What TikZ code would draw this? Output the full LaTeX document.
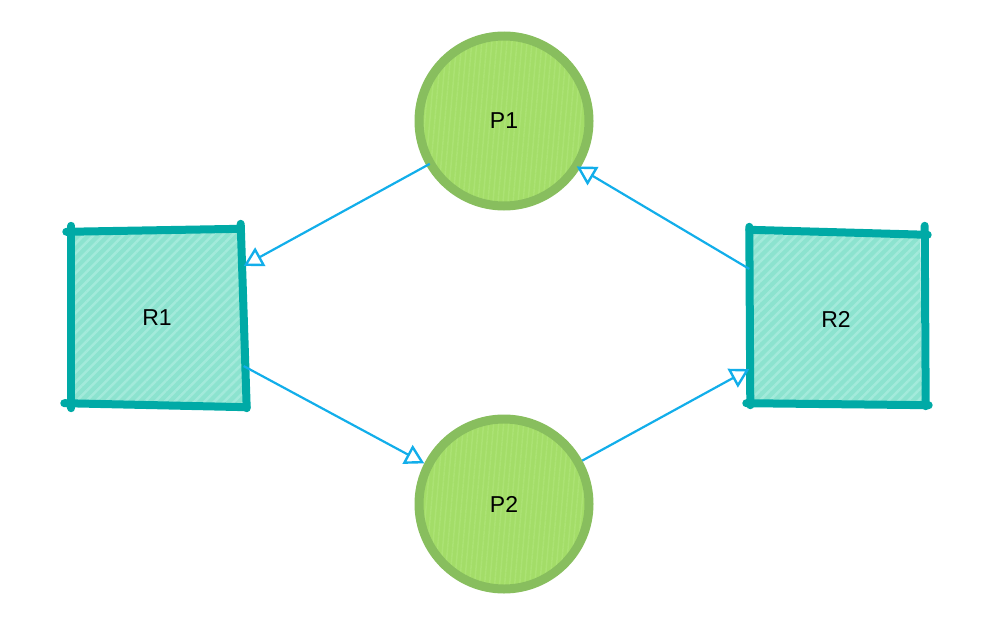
\documentclass[tikz,border=0pt]{standalone}
\usepackage{fontspec}
\setmainfont{Liberation Sans}
\usetikzlibrary{arrows.meta,calc,patterns.meta}
\definecolor{teal1}{HTML}{00AAA6}
\definecolor{tealfill}{HTML}{8CE3CF}
\definecolor{tealstripe}{HTML}{A3EADB}
\definecolor{greenline}{HTML}{88BE5E}
\definecolor{greenfill}{HTML}{A3DD68}
\definecolor{greenstripe}{HTML}{ABE274}
\definecolor{arrowblue}{HTML}{12AEEA}
\tikzset{
  place/.style={circle,minimum size=170pt,inner sep=0pt,line width=9pt,draw=greenline,
    preaction={fill=greenfill},pattern={Lines[angle=85,distance=5pt,line width=1.5pt]},pattern color=greenstripe,
    font=\fontsize{23pt}{26pt}\selectfont},
  resource/.style={rectangle,minimum width=173pt,minimum height=174pt,inner sep=0pt,
    font=\fontsize{23pt}{26pt}\selectfont},
  rfill/.style={preaction={fill=tealfill},pattern={Lines[angle=45,distance=7pt,line width=2.5pt]},pattern color=tealstripe},
  sketch/.style={draw=teal1,line width=8pt,line cap=round},
  flow/.style={draw=arrowblue,line width=2.2pt,-{Triangle[open,length=19pt,width=21pt,line width=2.4pt]}}
}
\begin{document}
\begin{tikzpicture}[x=1pt,y={(0pt,-1pt)}]
\useasboundingbox (0,0) rectangle (996,616);
% resources
\path[rfill] (70,233) -- (241,231) -- (247,407) -- (68,404) -- cycle;
\path[rfill] (752,234) -- (920,237) -- (922,404) -- (751,401) -- cycle;
\node[resource] (R1) at (157,318) {R1};
\node[resource] (R2) at (836,319) {R2};
% sketchy borders R1
\draw[sketch] ($(R1.north west)+(-4,1)$) -- ($(R1.north east)+(-3,-2)$);
\draw[sketch] ($(R1.north west)+(1,-5)$) -- ($(R1.south west)+(1,3)$);
\draw[sketch] ($(R1.south west)+(-6,-2)$) -- ($(R1.south east)+(3,2)$);
\draw[sketch] ($(R1.north east)+(-3,-7)$) -- ($(R1.south east)+(3,3)$);
% sketchy borders R2
\draw[sketch] ($(R2.north west)+(0,-2)$) -- ($(R2.north east)+(5,3)$);
\draw[sketch] ($(R2.north west)+(0,-5)$) -- ($(R2.south west)+(1,-1)$);
\draw[sketch] ($(R2.south west)+(-3,-3)$) -- ($(R2.south east)+(6,-1)$);
\draw[sketch] ($(R2.north east)+(2,-6)$) -- ($(R2.south east)+(3,0)$);
% places
\node[place] (P1) at (504,121) {P1};
\node[place] (P2) at (504,504) {P2};
% arcs
\draw[flow] (P1.210) -- (R1.31);
\draw[flow] (R1.-29) -- (P2.153);
\draw[flow] (P2.29) -- (R2.210);
\draw[flow] (R2.150) -- (P1.-32);
\end{tikzpicture}
\end{document}
